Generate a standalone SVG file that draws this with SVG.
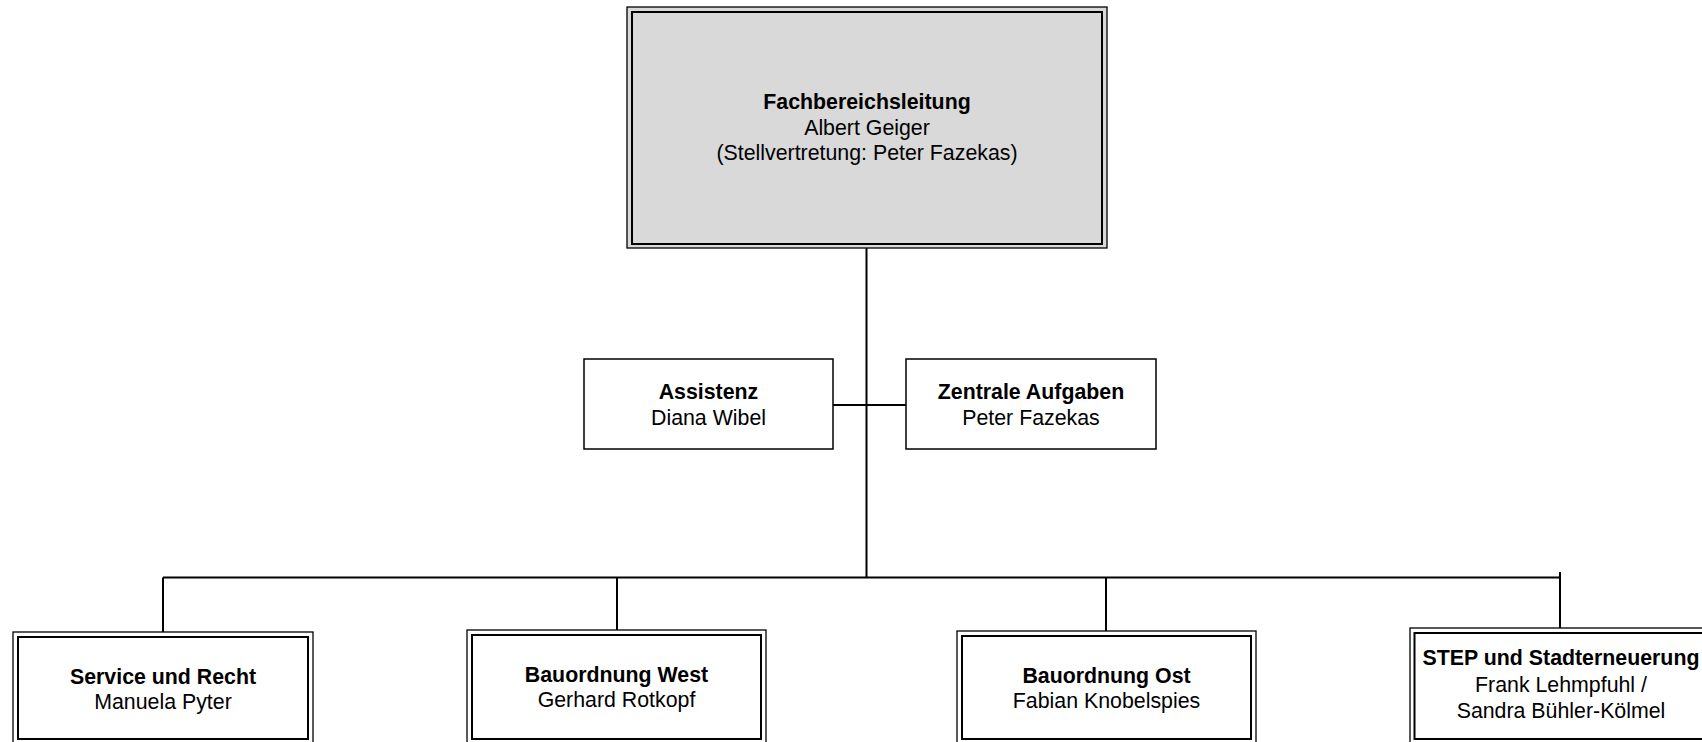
<svg xmlns="http://www.w3.org/2000/svg" width="1702" height="742" viewBox="0 0 1702 742">
<style>
text{font-family:"Liberation Sans",Arial,sans-serif;font-size:21.33px;fill:#000;text-anchor:middle}
.b{font-weight:bold}
.o{fill:#fff;stroke:#000;stroke-width:1.3}
.i{fill:#fff;stroke:#000;stroke-width:2}
.g{fill:#d9d9d9}
.s{fill:#fff;stroke:#000;stroke-width:1.5}
.c{fill:none;stroke:#000;stroke-width:2}
</style>
<rect width="1702" height="742" fill="#fff"/>
<g id="connectors">
<path class="c" d="M866.5 248V577.5M833 405H906M163 577.5H1560M163 577.5V632M617 577.5V630M1106 577.5V631M1560 572V628"/>
</g>
<g id="n-fachbereichsleitung">
<rect class="o g" x="627" y="7" width="480" height="241"/>
<rect class="i g" x="632" y="12" width="470" height="232"/>
<text x="867" y="109" class="b">Fachbereichsleitung</text>
<text x="867" y="134.5">Albert Geiger</text>
<text x="867" y="160">(Stellvertretung: Peter Fazekas)</text>
</g>
<g id="n-assistenz">
<rect class="s" x="584" y="359" width="249" height="90"/>
<text x="708.5" y="399" class="b">Assistenz</text>
<text x="708.5" y="424.5">Diana Wibel</text>
</g>
<g id="n-zentrale">
<rect class="s" x="906" y="359" width="250" height="90"/>
<text x="1031" y="399" class="b">Zentrale Aufgaben</text>
<text x="1031" y="424.5">Peter Fazekas</text>
</g>
<g id="n-service">
<rect class="o" x="13" y="632" width="300" height="112"/>
<rect class="i" x="18" y="637" width="290" height="102"/>
<text x="163" y="684" class="b">Service und Recht</text>
<text x="163" y="709">Manuela Pyter</text>
</g>
<g id="n-west">
<rect class="o" x="467" y="630" width="299" height="114"/>
<rect class="i" x="472" y="635" width="289" height="104"/>
<text x="616.5" y="682" class="b">Bauordnung West</text>
<text x="616.5" y="707">Gerhard Rotkopf</text>
</g>
<g id="n-ost">
<rect class="o" x="957" y="631" width="299" height="113"/>
<rect class="i" x="962" y="636" width="289" height="103"/>
<text x="1106.5" y="683" class="b">Bauordnung Ost</text>
<text x="1106.5" y="708">Fabian Knobelspies</text>
</g>
<g id="n-step">
<rect class="o" x="1410" y="628" width="300" height="116"/>
<rect class="i" x="1414.5" y="633" width="290" height="106"/>
<text x="1561" y="665" class="b">STEP und Stadterneuerung</text>
<text x="1561" y="692">Frank Lehmpfuhl /</text>
<text x="1561" y="718">Sandra Bühler-Kölmel</text>
</g>
</svg>
